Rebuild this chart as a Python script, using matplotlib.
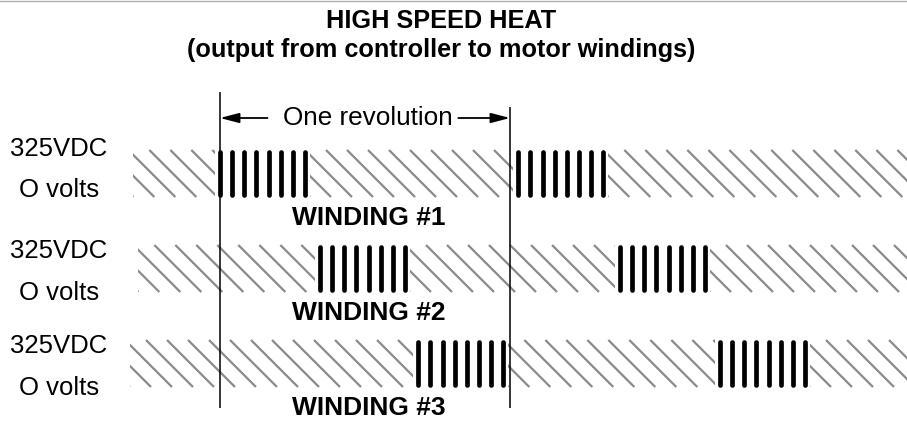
import matplotlib.pyplot as plt
from matplotlib.collections import LineCollection
from matplotlib.patches import Rectangle
import numpy as np

plt.rcParams['font.family'] = ['Liberation Sans', 'DejaVu Sans']

# data (electrical angle in degrees, 0 = start of revolution)
windings = ['WINDING #1', 'WINDING #2', 'WINDING #3']
burst_starts = [[0, 358], [120, 480], [238, 600]]
burst_width = 102
pulses_per_burst = 8
trace_start = [-104, -98, -108]
trace_end = 840
revolution = [0, 348]
level_labels = ['325VDC', 'O volts']

# layout (pixels, y downwards)
W, H = 907, 422
px = 300 / 360          # pixels per degree
x0 = 220                # pixel of 0 degrees
row_top = [150, 245, 340]
hi_base = [156, 258, 353]
lo_base = [197, 300, 395]
band_h = 47
hatch_step = 21 / px
hatch_dx = band_h / px
gap = 6

fig = plt.figure(figsize=(W / 100, H / 100), dpi=100)
ax = fig.add_axes([0, 0, 1, 1])
ax.set_xlim(-x0 / px, (W - x0) / px)
ax.set_ylim(H, 0)
ax.axis('off')


def hatch(ax, a, b, top):
    if b <= a:
        return
    xs = np.arange(a - hatch_dx - hatch_step, b + hatch_step, hatch_step)
    segs = [[(x, top), (x + hatch_dx, top + band_h)] for x in xs]
    lc = LineCollection(segs, colors='#8a8a8a', linewidths=1.6)
    clip = Rectangle((a, top - 2), b - a, band_h + 4, transform=ax.transData)
    ax.add_collection(lc)
    lc.set_clip_path(clip)


label_x = (59 - x0) / px
for i, name in enumerate(windings):
    top = row_top[i]
    bot = top + band_h
    # hatched (off) regions
    edges = [trace_start[i]]
    for s in burst_starts[i]:
        edges += [s - gap, s + burst_width + gap]
    edges.append(trace_end)
    for a, b in zip(edges[::2], edges[1::2]):
        hatch(ax, a, b, top)
    # pulse bursts
    for s in burst_starts[i]:
        xs = np.linspace(s, s + burst_width, pulses_per_burst)
        ax.vlines(xs, top + 2, bot - 2, colors='black', linewidth=3.4,
                  capstyle='round')
    ax.text(np.mean(revolution) + 5, bot + 28, name, ha='center',
            va='baseline', fontsize=19, fontweight='bold')
    ax.text(label_x, hi_base[i], level_labels[0], ha='center', va='baseline',
            fontsize=18.5)
    ax.text(label_x, lo_base[i], level_labels[1], ha='center', va='baseline',
            fontsize=18.5)

# revolution markers
ax.vlines(revolution[0], 92, 408, colors='black', linewidth=1.1)
ax.vlines(revolution[1], 107, 408, colors='black', linewidth=1.1)
mid = np.mean(revolution)
ax.text(mid + 3, 118, 'One revolution', ha='center', va='center',
        fontsize=18.8)
arrow = dict(arrowstyle='-|>,head_length=1.15,head_width=0.3',
             color='black', lw=1.3, shrinkA=0, shrinkB=0)
ax.annotate('', xy=(revolution[0], 118), xytext=(revolution[0] + 57, 118),
            arrowprops=arrow)
ax.annotate('', xy=(revolution[1], 118), xytext=(revolution[1] - 62, 118),
            arrowprops=arrow)

# thin grey rule along the top edge
fig.add_artist(plt.Line2D([0, 1], [1 - 0.6 / H, 1 - 0.6 / H],
                          transform=fig.transFigure, color='#b0b0b0', lw=1))

fig.text(441 / W, 1 - 28 / H, 'HIGH SPEED HEAT',
         ha='center', va='baseline', fontsize=18.2, fontweight='bold')
fig.text(441 / W, 1 - 57 / H, '(output from controller to motor windings)',
         ha='center', va='baseline', fontsize=18.2, fontweight='bold')

fig.savefig('out.png', dpi=100)
